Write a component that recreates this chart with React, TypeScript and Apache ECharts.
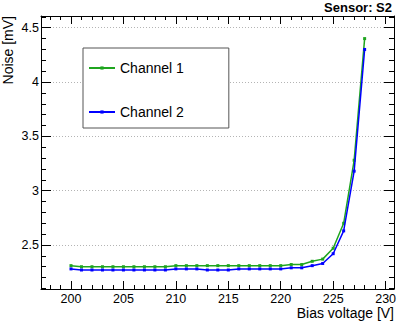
import React, { useEffect, useRef } from "react";
import * as echarts from "echarts";

const voltages = [
  200, 201, 202, 203, 204, 205, 206, 207, 208, 209, 210, 211, 212, 213, 214,
  215, 216, 217, 218, 219, 220, 221, 222, 223, 224, 225, 226, 227, 228,
];
const channel1 = [
  2.31, 2.3, 2.3, 2.3, 2.3, 2.3, 2.3, 2.3, 2.3, 2.3, 2.31, 2.31, 2.31, 2.31,
  2.31, 2.31, 2.31, 2.31, 2.31, 2.31, 2.31, 2.32, 2.32, 2.35, 2.37, 2.47, 2.7,
  3.28, 4.4,
];
const channel2 = [
  2.28, 2.27, 2.27, 2.27, 2.27, 2.27, 2.27, 2.27, 2.27, 2.27, 2.28, 2.28, 2.28,
  2.27, 2.27, 2.27, 2.28, 2.28, 2.28, 2.28, 2.28, 2.29, 2.29, 2.31, 2.33, 2.42,
  2.63, 3.18, 4.3,
];
const xRange = [197.14, 230.8];
const yRange = [2.095, 4.608];
const seriesNames = ["Channel 1", "Channel 2"];
const seriesColors = ["#1fa51f", "#0000ff"];
const titleText = "Sensor: S2";
const xTitle = "Bias voltage [V]";
const yTitle = "Noise [mV]";

export default function App() {
  const ref = useRef<HTMLDivElement>(null);
  useEffect(() => {
    const chart = echarts.init(ref.current!, null, { renderer: "svg" });
    const font = "Liberation Sans";
    const black = { color: "#000", width: 1 };
    const mkX = (pos: string, labels: boolean) => ({
      type: "value",
      position: pos,
      min: xRange[0],
      max: xRange[1],
      axisLine: { show: true, onZero: false, lineStyle: black },
      axisTick: { show: true, inside: true, length: 8, lineStyle: black },
      minorTick: { show: true, splitNumber: 5, length: 4, lineStyle: black },
      axisLabel: {
        show: labels,
        margin: 4,
        fontSize: 12.5,
        lineHeight: 12,
        color: "#000",
        fontFamily: font,
        showMinLabel: false,
        showMaxLabel: false,
      },
      splitLine: { show: false },
    });
    const mkY = (pos: string, labels: boolean) => ({
      type: "value",
      position: pos,
      min: yRange[0],
      max: yRange[1],
      axisLine: { show: true, onZero: false, lineStyle: black },
      axisTick: { show: true, inside: true, length: 10, lineStyle: black },
      minorTick: { show: true, splitNumber: 5, length: 5, lineStyle: black },
      axisLabel: {
        show: labels,
        margin: 2,
        fontSize: 12.5,
        color: "#000",
        fontFamily: font,
        showMinLabel: false,
        showMaxLabel: false,
      },
      splitLine: {
        show: labels,
        lineStyle: { color: "#b4b4b4", width: 1, type: [1, 2] },
      },
    });
    chart.setOption({
      animation: false,
      backgroundColor: "#fff",
      textStyle: { fontFamily: font },
      title: {
        text: titleText,
        right: 23,
        top: 1,
        padding: 0,
        textStyle: {
          fontSize: 13,
          fontWeight: "bold",
          fontFamily: font,
          color: "#000",
        },
      },
      grid: { left: 41, top: 16, right: 21, bottom: 33, containLabel: false },
      legend: {
        left: 83,
        top: 48,
        orient: "vertical",
        data: seriesNames,
        itemWidth: 26,
        itemHeight: 4,
        itemGap: 30,
        padding: [13, 45, 9, 5],
        borderColor: "#555",
        borderWidth: 1,
        backgroundColor: "#fff",
        textStyle: { fontSize: 14, fontFamily: font, color: "#000" },
      },
      xAxis: [mkX("bottom", true), mkX("top", false)],
      yAxis: [mkY("left", true), mkY("right", false)],
      series: [channel1, channel2].map((vals, s) => ({
        name: seriesNames[s],
        type: "line",
        xAxisIndex: 0,
        yAxisIndex: 0,
        data: voltages.map((v, i) => [v, vals[i]]),
        symbol: "rect",
        symbolSize: 3,
        color: seriesColors[s],
        lineStyle: { width: 1.5, color: seriesColors[s] },
        itemStyle: { color: seriesColors[s] },
        z: 3 + s,
      })),
      graphic: [
        {
          type: "text",
          x: 8,
          y: 16,
          rotation: Math.PI / 2,
          style: {
            text: yTitle,
            align: "right",
            verticalAlign: "middle",
            fontSize: 14,
            fontFamily: font,
            fill: "#000",
          },
        },
        {
          type: "text",
          x: 394,
          y: 312.5,
          style: {
            text: xTitle,
            align: "right",
            verticalAlign: "middle",
            fontSize: 14,
            lineHeight: 13,
            fontFamily: font,
            fill: "#000",
          },
        },
      ],
    });
    return () => chart.dispose();
  }, []);
  return (
    <div
      ref={ref}
      style={{
        position: "fixed",
        left: 0,
        top: 0,
        width: 415,
        height: 322,
        background: "#fff",
      }}
    />
  );
}
